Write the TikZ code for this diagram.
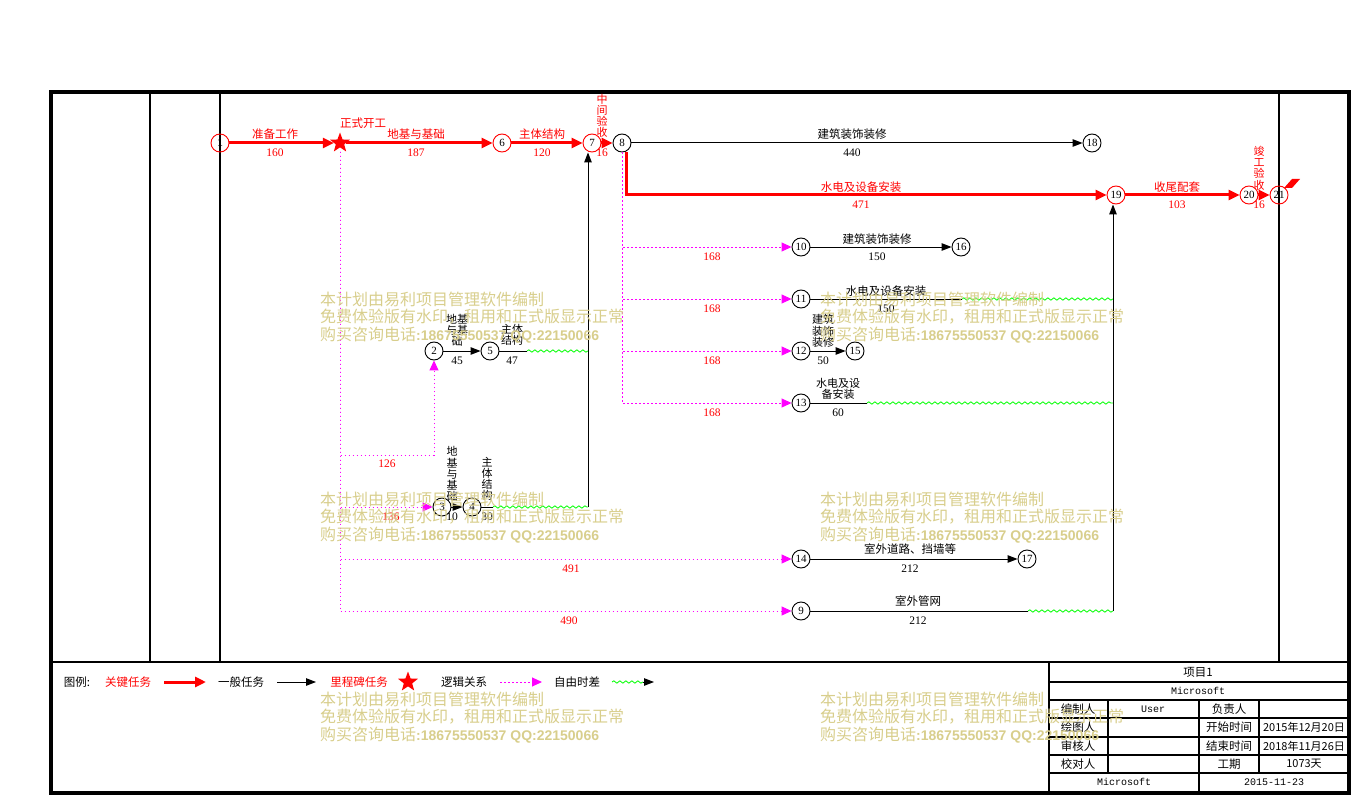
\documentclass[tikz,border=0pt]{standalone}
\usepackage{fontspec}
\setmainfont{Liberation Serif}
\newfontfamily\cjk{Noto Sans CJK SC}
\newfontfamily\wmdig{Liberation Sans}
\newfontfamily\monof{Liberation Mono}
\usetikzlibrary{shapes.geometric,arrows.meta,decorations.pathmorphing}
\definecolor{rd}{RGB}{255,0,0}
\definecolor{mag}{RGB}{255,0,255}
\definecolor{grn}{RGB}{0,255,0}
\definecolor{wmcol}{RGB}{216,206,140}
\newcommand\wmblock[3]{%
 \node[wmc] (#3a) at (#1,#2) {本计划由易利项目管理软件编制};
 \node[wmc] (#3b) at (#1,#2+18) {免费体验版有水印，租用和正式版显示正常};
 \node[wmc] (#3c) at (#1,#2+36) {购买咨询电话{\wmdig\bfseries\fontsize{14}{14}\selectfont :18675550537 QQ:22150066}};
}
\begin{document}
\begin{tikzpicture}[x=1pt,y=-1pt,
 lbl/.style={font=\cjk\fontsize{11.5}{12}\selectfont, inner sep=0pt},
 num/.style={font=\fontsize{11.5}{12}\selectfont, inner sep=0pt},
 vlbl/.style={font=\cjk\fontsize{11}{11.2}\selectfont, align=center, inner sep=0pt},
 nd/.style={circle, draw=black, line width=0.9pt, minimum size=18pt, inner sep=0pt, font=\fontsize{11}{11}\selectfont},
 rnd/.style={nd, draw=rd},
 crit/.style={draw=rd, line width=3pt, -{Triangle[length=11pt,width=10pt]}},
 tk/.style={draw=black, line width=1pt},
 tka/.style={tk, -{Triangle[length=10pt,width=7.5pt]}},
 lg/.style={draw=mag, line width=1pt, dash pattern=on 1.5pt off 2.5pt, -{Triangle[length=10pt,width=9pt]}},
 flt/.style={draw=grn, line width=0.8pt, decorate, decoration={snake, segment length=6pt, amplitude=1.2pt}},
 msn/.style={star, star points=5, star point ratio=2.4, fill=rd, draw=none, minimum size=21pt, inner sep=0pt},
 wmc/.style={font=\cjk\fontsize{16}{16}\selectfont, text=wmcol, anchor=west, inner sep=0pt},
 tb/.style={font=\cjk\fontsize{11.5}{12}\selectfont, inner sep=0pt},
 tbm/.style={font=\monof\fontsize{10}{10}\selectfont, inner sep=0pt},
]
\useasboundingbox (0,0) rectangle (1353,797);
% frame
\draw[line width=4.5pt] (51,92) rectangle (1349,793);
\draw[line width=2pt] (150,92) -- (150,662);
\draw[line width=1.2pt] (220,92) -- (220,662);
\draw[line width=1.3pt] (1279,92) -- (1279,662);
\draw[line width=2.2pt] (51,662) -- (1349,662);

% nodes
\node[rnd,font=\bfseries\fontsize{11}{11}\selectfont] (n1) at (220,143) {1};
\node[msn] (ms) at (340,143) {};
\node[rnd] (n6) at (502,143) {6};
\node[rnd] (n7) at (592,143) {7};
\node[nd] (n8) at (622,143) {8};
\node[nd] (n18) at (1092,143) {18};
\node[rnd] (n19) at (1116,195) {19};
\node[rnd] (n20) at (1249,195) {20};
\node[rnd] (n21) at (1279,195) {21};
\node[nd] (n10) at (801,247) {10};
\node[nd] (n16) at (961,247) {16};
\node[nd] (n11) at (801,299) {11};
\node[nd] (n12) at (801,351) {12};
\node[nd] (n15) at (855,351) {15};
\node[nd] (n13) at (801,403) {13};
\node[nd] (n2) at (434,351) {2};
\node[nd] (n5) at (490,351) {5};
\node[nd] (n3) at (442,507) {3};
\node[nd] (n4) at (472,507) {4};
\node[nd] (n14) at (801,559) {14};
\node[nd] (n17) at (1027,559) {17};
\node[nd] (n9) at (801,611) {9};

% helper coordinates
\coordinate (f5a) at (527,351);
\coordinate (f5b) at (588,351);
\coordinate (f4a) at (493,507);
\coordinate (j7b) at (588,507);
\coordinate (f11a) at (962,299);
\coordinate (f11b) at (1113,299);
\coordinate (f13a) at (867,403);
\coordinate (f13b) at (1113,403);
\coordinate (f9a) at (1028,611);
\coordinate (j19b) at (1113,611);
\coordinate (c126) at (434,455);

% flag at 21
\fill[rd] (1284,188) -- (1292,179) -- (1300,179) -- (1292,188) -- cycle;

% critical path
\draw[crit] (n1) -- (ms);
\draw[crit] (ms) -- (n6);
\draw[crit] (n6) -- (n7);
\draw[crit] (n7) -- (n8);
\draw[crit] ([xshift=4pt]n8.south) |- (n19);
\draw[crit] (n19) -- (n20);
\draw[crit] (n20) -- (n21);

% general tasks
\draw[tka] (n8) -- (n18);
\draw[tka] (n10) -- (n16);
\draw[tka] (n12) -- (n15);
\draw[tka] (n2) -- (n5);
\draw[tka] (n3) -- (n4);
\draw[tka] (n14) -- (n17);
\draw[tk] (n11) -- (f11a);
\draw[flt] (f11a) -- (f11b);
\draw[tk] (n13) -- (f13a);
\draw[flt] (f13a) -- (f13b);
\draw[tk] (n9) -- (f9a);
\draw[flt] (f9a) -- (j19b);
\draw[tka] (j19b) -- ([xshift=-3pt]n19.south);
\draw[tk] (n5) -- (f5a);
\draw[flt] (f5a) -- (f5b);
\draw[tk] (n4) -- (f4a);
\draw[flt] (f4a) -- (j7b);
\draw[tka] (j7b) -- ([xshift=-4pt]n7.south);

% logic relations
\draw[lg] (n8.south) |- (n10);
\draw[lg] (n8.south) |- (n11);
\draw[lg] (n8.south) |- (n12);
\draw[lg] (n8.south) |- (n13);
\draw[lg] ([yshift=-4pt]ms.south) |- (c126) -- (n2);
\draw[lg] ([yshift=-4pt]ms.south) |- (n3);
\draw[lg] ([yshift=-4pt]ms.south) |- (n14);
\draw[lg] ([yshift=-4pt]ms.south) |- (n9);

% labels critical
\node[lbl,text=rd] (l1) at (275,134) {准备工作};
\node[num,text=rd] (d1) at (275,153) {160};
\node[lbl,text=rd] (lms) at (363,123) {正式开工};
\node[lbl,text=rd] (l2) at (416,134) {地基与基础};
\node[num,text=rd] (d2) at (416,153) {187};
\node[lbl,text=rd] (l3) at (542,134) {主体结构};
\node[num,text=rd] (d3) at (542,153) {120};
\node[vlbl,text=rd] (l4) at (602,116) {中\\间\\验\\收};
\node[num,text=rd] (d4) at (602,153) {16};
\node[lbl] (l5) at (852,134) {建筑装饰装修};
\node[num] (d5) at (852,153) {440};
\node[lbl,text=rd] (l6) at (861,187) {水电及设备安装};
\node[num,text=rd] (d6) at (861,205) {471};
\node[lbl,text=rd] (l7) at (1177,187) {收尾配套};
\node[num,text=rd] (d7) at (1177,205) {103};
\node[vlbl,text=rd] (l8) at (1259,168) {竣\\工\\验\\收};
\node[num,text=rd] (d8) at (1259,205) {16};

% labels others
\node[lbl] (l10) at (877,239) {建筑装饰装修};
\node[num] (d10) at (877,257) {150};
\node[lbl] (l11) at (886,291) {水电及设备安装};
\node[num] (d11) at (886,309) {150};
\node[vlbl] (l12) at (823,331) {建筑\\装饰\\装修};
\node[num] (d12) at (823,361) {50};
\node[vlbl] (l13) at (838,389) {水电及设\\备安装};
\node[num] (d13) at (838,413) {60};
\node[vlbl] (l2b) at (457,330) {地基\\与基\\础};
\node[num] (d2b) at (457,361) {45};
\node[vlbl] (l5b) at (512,335) {主体\\结构};
\node[num] (d5b) at (512,361) {47};
\node[vlbl] (l3b) at (452,474) {地\\基\\与\\基\\础};
\node[num] (d3b) at (452,517) {10};
\node[vlbl] (l4b) at (487,479) {主\\体\\结\\构};
\node[num] (d4b) at (487,517) {30};
\node[lbl] (l14) at (910,549) {室外道路、挡墙等};
\node[num] (d14) at (910,569) {212};
\node[lbl] (l9) at (918,601) {室外管网};
\node[num] (d9) at (918,621) {212};

% logic labels
\node[num,text=rd] (g1) at (712,257) {168};
\node[num,text=rd] (g2) at (712,309) {168};
\node[num,text=rd] (g3) at (712,361) {168};
\node[num,text=rd] (g4) at (712,413) {168};
\node[num,text=rd] (g5) at (387,464) {126};
\node[num,text=rd] (g6) at (391,517) {136};
\node[num,text=rd] (g7) at (571,569) {491};
\node[num,text=rd] (g8) at (569,621) {490};

% legend
\node[lbl] (lgA) at (77,682) {图例:};
\node[lbl,text=rd] (lgB) at (128,682) {关键任务};
\coordinate (lgBa) at (164,682);
\coordinate (lgBb) at (206,682);
\draw[crit] (lgBa) -- (lgBb);
\node[lbl] (lgC) at (241,682) {一般任务};
\coordinate (lgCa) at (277,682);
\coordinate (lgCb) at (316,682);
\draw[tka] (lgCa) -- (lgCb);
\node[lbl,text=rd] (lgD) at (359,682) {里程碑任务};
\node[msn] (lgS) at (408,682) {};
\node[lbl] (lgE) at (464,682) {逻辑关系};
\coordinate (lgEa) at (500,682);
\coordinate (lgEb) at (542,682);
\draw[lg] (lgEa) -- (lgEb);
\node[lbl] (lgF) at (577,682) {自由时差};
\coordinate (lgFa) at (612,682);
\coordinate (lgFb) at (643,682);
\coordinate (lgFc) at (654,682);
\draw[flt] (lgFa) -- (lgFb);
\draw[tka] (lgFb) -- (lgFc);

% table
\draw[line width=2pt] (1049,662) -- (1049,793);
\foreach \yy in {682,700,718,737,755,773} \draw[line width=1.2pt] (1049,\yy) -- (1349,\yy);
\draw[line width=1.2pt] (1108,700) -- (1108,773);
\draw[line width=1.2pt] (1199,700) -- (1199,793);
\draw[line width=1.2pt] (1259,700) -- (1259,773);
\node[tb] (t1) at (1198,672) {项目1};
\node[tbm] (t2) at (1198,691) {Microsoft};
\node[tb] (t3a) at (1078,709) {编制人};
\node[tbm] (t3b) at (1153,709) {User};
\node[tb] (t3c) at (1229,709) {负责人};
\node[tb] (t4a) at (1078,727.5) {绘图人};
\node[tb] (t4c) at (1229,727.5) {开始时间};
\node[tb,font=\cjk\fontsize{11}{11}\selectfont] (t4d) at (1304,727.5) {2015年12月20日};
\node[tb] (t5a) at (1078,746) {审核人};
\node[tb] (t5c) at (1229,746) {结束时间};
\node[tb,font=\cjk\fontsize{11}{11}\selectfont] (t5d) at (1304,746) {2018年11月26日};
\node[tb] (t6a) at (1078,764) {校对人};
\node[tb] (t6c) at (1229,764) {工期};
\node[tb,font=\cjk\fontsize{11}{11}\selectfont] (t6d) at (1304,764) {1073天};
\node[tbm] (t7a) at (1124,782) {Microsoft};
\node[tbm] (t7b) at (1274,782) {2015-11-23};

% watermarks
\wmblock{320}{299}{wa}
\wmblock{820}{299}{wb}
\wmblock{320}{499}{wc}
\wmblock{820}{499}{wd}
\wmblock{320}{699}{we}
\wmblock{820}{699}{wf}
\end{tikzpicture}
\end{document}
